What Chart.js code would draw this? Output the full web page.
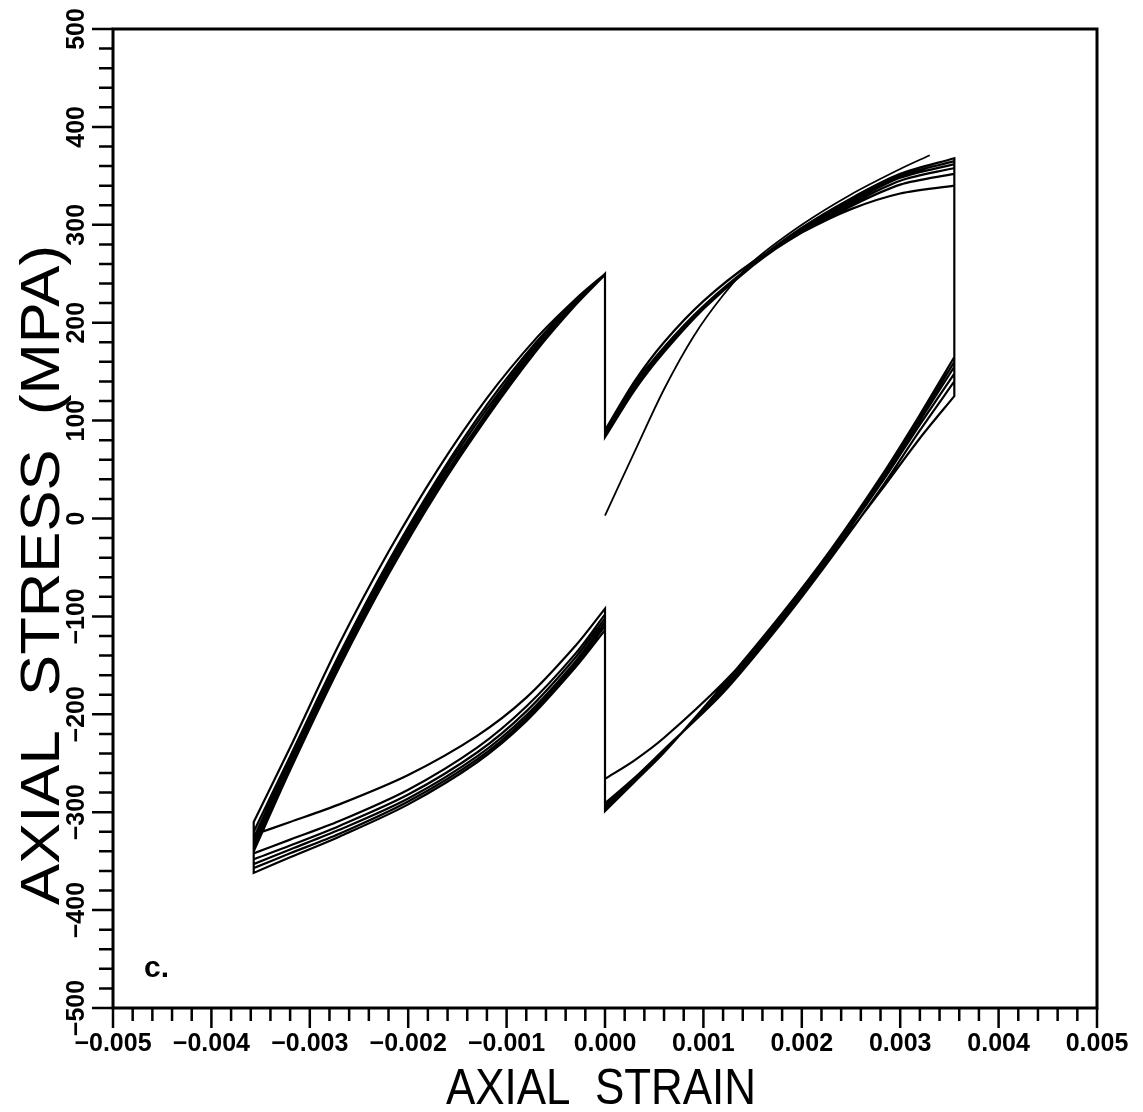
<!DOCTYPE html>
<html>
<head>
<meta charset="utf-8">
<script src="https://cdn.jsdelivr.net/npm/chart.js@4"></script>
<style>
  body { margin: 0; background: #fff; }
  #wrap { width: 1143px; height: 1112px; position: relative; }
</style>
</head>
<body>
<div id="wrap"><canvas id="myChart"></canvas></div>
<script>
// strain points along each branch of a loop (upper right, lower right, lower left, upper left)
const urStrain = [0, 0.0003, 0.0006, 0.001, 0.0015, 0.002, 0.0025, 0.003, 0.00355];
const lrStrain = [0.00355, 0.0032, 0.0028, 0.0023, 0.0018, 0.0012, 0.0006, 0.0003, 0];
const llStrain = [0, -0.0003, -0.0008, -0.0013, -0.002, -0.0027, -0.0032, -0.00357];
const ulStrain = [-0.00357, -0.0032, -0.0027, -0.0022, -0.0017, -0.0012, -0.0007, -0.0003, 0];

// stress (MPa) on each branch, one row per cycle
const urStress = [
    [90, 140, 180, 222, 262, 292, 316, 332, 340],
    [88, 137, 175, 217, 259, 292, 319, 341, 352],
    [86, 134, 172, 215, 258, 293, 321, 345, 358],
    [85, 133, 171, 214, 258, 294, 323, 348, 362],
    [84, 132, 170, 214, 259, 296, 325, 350, 365],
    [83, 131, 170, 214, 260, 297, 327, 352, 368]
];
const lrStress = [
    [125, 82, 28, -38, -103, -168, -224, -247, -266],
    [140, 90, 30, -40, -106, -178, -236, -265, -291],
    [148, 96, 35, -36, -103, -176, -237, -266, -293],
    [155, 100, 38, -34, -101, -174, -238, -267, -295],
    [160, 103, 40, -33, -99, -172, -238, -268, -297],
    [165, 106, 42, -31, -97, -170, -239, -269, -299]
];
const llStress = [
    [-92, -130, -183, -222, -262, -292, -310, -323],
    [-98, -138, -192, -234, -277, -309, -328, -342],
    [-102, -142, -197, -239, -282, -314, -334, -348],
    [-106, -146, -201, -243, -286, -318, -338, -353],
    [-110, -149, -204, -246, -289, -322, -342, -357],
    [-114, -152, -207, -249, -292, -325, -346, -362]
];
const ulStress = [
    [-310, -234, -128, -34, 50, 123, 184, 224, 250],
    [-320, -243, -139, -44, 41, 116, 180, 222, 249],
    [-326, -247, -143, -48, 37, 112, 177, 221, 250],
    [-331, -251, -147, -52, 33, 108, 174, 220, 250],
    [-336, -254, -150, -55, 30, 105, 172, 219, 249],
    [-340, -257, -152, -57, 28, 103, 171, 218, 249]
];

// first loading from the origin
const initStrain = [0, 0.0003, 0.0006, 0.0009, 0.0012, 0.0015, 0.002, 0.0025, 0.003, 0.0033];
const initStress = [3, 68, 132, 186, 228, 262, 300, 331, 357, 371];

const xTickValues = [-0.005, -0.004, -0.003, -0.002, -0.001, 0, 0.001, 0.002, 0.003, 0.004, 0.005];
const xTickLabels = ['\u22120.005', '\u22120.004', '\u22120.003', '\u22120.002', '\u22120.001', '0.000', '0.001', '0.002', '0.003', '0.004', '0.005'];
const yTickValues = [-500, -400, -300, -200, -100, 0, 100, 200, 300, 400, 500];
const yTickLabels = ['\u2212500', '\u2212400', '\u2212300', '\u2212200', '\u2212100', '0', '100', '200', '300', '400', '500'];

function loopPoints(c) {
    let pts = [];
    let branches = [
        [urStrain, urStress[c]],
        [lrStrain, lrStress[c]],
        [llStrain, llStress[c]],
        [ulStrain, ulStress[c]]
    ];
    branches.forEach(function (b) {
        let xs = b[0], ys = b[1];
        for (let i = 0; i < xs.length; i++) {
            pts.push({ x: xs[i], y: ys[i] });
            // doubled end points keep the hold segments straight under tension
            if (i === 0 || i === xs.length - 1) pts.push({ x: xs[i], y: ys[i] });
        }
    });
    return pts;
}

let cyclePoints = [];
for (let c = 0; c < urStress.length; c++) {
    cyclePoints = cyclePoints.concat(loopPoints(c));
}
let initPoints = initStrain.map(function (x, i) { return { x: x, y: initStress[i] }; });

const FONT = '"Liberation Sans", Arial, sans-serif';

// text stretched or squeezed along its run to a given length
function fillFitted(ctx, text, len) {
    let w = ctx.measureText(text).width;
    ctx.save();
    ctx.scale(len / w, 1);
    ctx.fillText(text, 0, 0);
    ctx.restore();
}

// frame, ticks and all text, placed with the chart's scales
const axesPlugin = {
    id: 'axesPlugin',
    afterDraw(chart) {
        const ctx = chart.ctx;
        const a = chart.chartArea;
        const xs = chart.scales.x, ys = chart.scales.y;
        ctx.save();
        ctx.strokeStyle = '#000';
        ctx.fillStyle = '#000';
        ctx.lineWidth = 3;
        ctx.strokeRect(a.left, a.top, a.right - a.left, a.bottom - a.top);

        ctx.lineWidth = 2.5;
        ctx.beginPath();
        for (let i = 0; i < xTickValues.length; i++) {
            for (let k = 0; k < 5; k++) {
                if (i === xTickValues.length - 1 && k > 0) break;
                let v = xTickValues[i] + k * 0.0002;
                let px = xs.getPixelForValue(v);
                ctx.moveTo(px, a.bottom);
                ctx.lineTo(px, a.bottom + (k === 0 ? 20 : 13));
            }
        }
        for (let i = 0; i < yTickValues.length; i++) {
            for (let k = 0; k < 5; k++) {
                if (i === yTickValues.length - 1 && k > 0) break;
                let v = yTickValues[i] + k * 20;
                let py = ys.getPixelForValue(v);
                ctx.moveTo(a.left, py);
                ctx.lineTo(a.left - (k === 0 ? 21 : 14), py);
            }
        }
        ctx.stroke();

        ctx.font = 'bold 25px ' + FONT;
        ctx.textAlign = 'center';
        ctx.textBaseline = 'middle';
        xTickValues.forEach(function (v, i) {
            ctx.fillText(xTickLabels[i], xs.getPixelForValue(v), 1044);
        });
        yTickValues.forEach(function (v, i) {
            ctx.save();
            ctx.translate(77, ys.getPixelForValue(v));
            ctx.rotate(-Math.PI / 2);
            ctx.fillText(yTickLabels[i], 0, 0);
            ctx.restore();
        });

        ctx.textBaseline = 'alphabetic';
        ctx.font = '50px ' + FONT;
        ctx.save();
        ctx.translate(601, 1104);
        fillFitted(ctx, 'AXIAL  STRAIN', 310);
        ctx.restore();

        ctx.save();
        ctx.translate(59, 575);
        ctx.rotate(-Math.PI / 2);
        ctx.font = '55px ' + FONT;
        fillFitted(ctx, 'AXIAL  STRESS  (MPA)', 660);
        ctx.restore();

        ctx.font = 'bold 30px ' + FONT;
        ctx.textAlign = 'left';
        ctx.fillText('c.', 144, 977);
        ctx.restore();
    }
};

var ctx = document.getElementById('myChart');
var myChart = new Chart(ctx, {
    type: 'scatter',
    data: {
        datasets: [{
            label: 'cycles',
            data: cyclePoints,
            showLine: true,
            borderColor: '#000',
            borderWidth: 2.2,
            pointRadius: 0,
            tension: 0.3
        }, {
            label: 'first loading',
            data: initPoints,
            showLine: true,
            borderColor: '#000',
            borderWidth: 1.8,
            pointRadius: 0,
            tension: 0.3
        }]
    },
    options: {
        responsive: true,
        maintainAspectRatio: false,
        animation: false,
        layout: { padding: { left: 113, right: 46, top: 29, bottom: 104 } },
        plugins: { legend: { display: false }, tooltip: { enabled: false } },
        scales: {
            x: { type: 'linear', min: -0.005, max: 0.005, display: false },
            y: { type: 'linear', min: -500, max: 500, display: false }
        }
    },
    plugins: [axesPlugin]
});
</script>
</body>
</html>
